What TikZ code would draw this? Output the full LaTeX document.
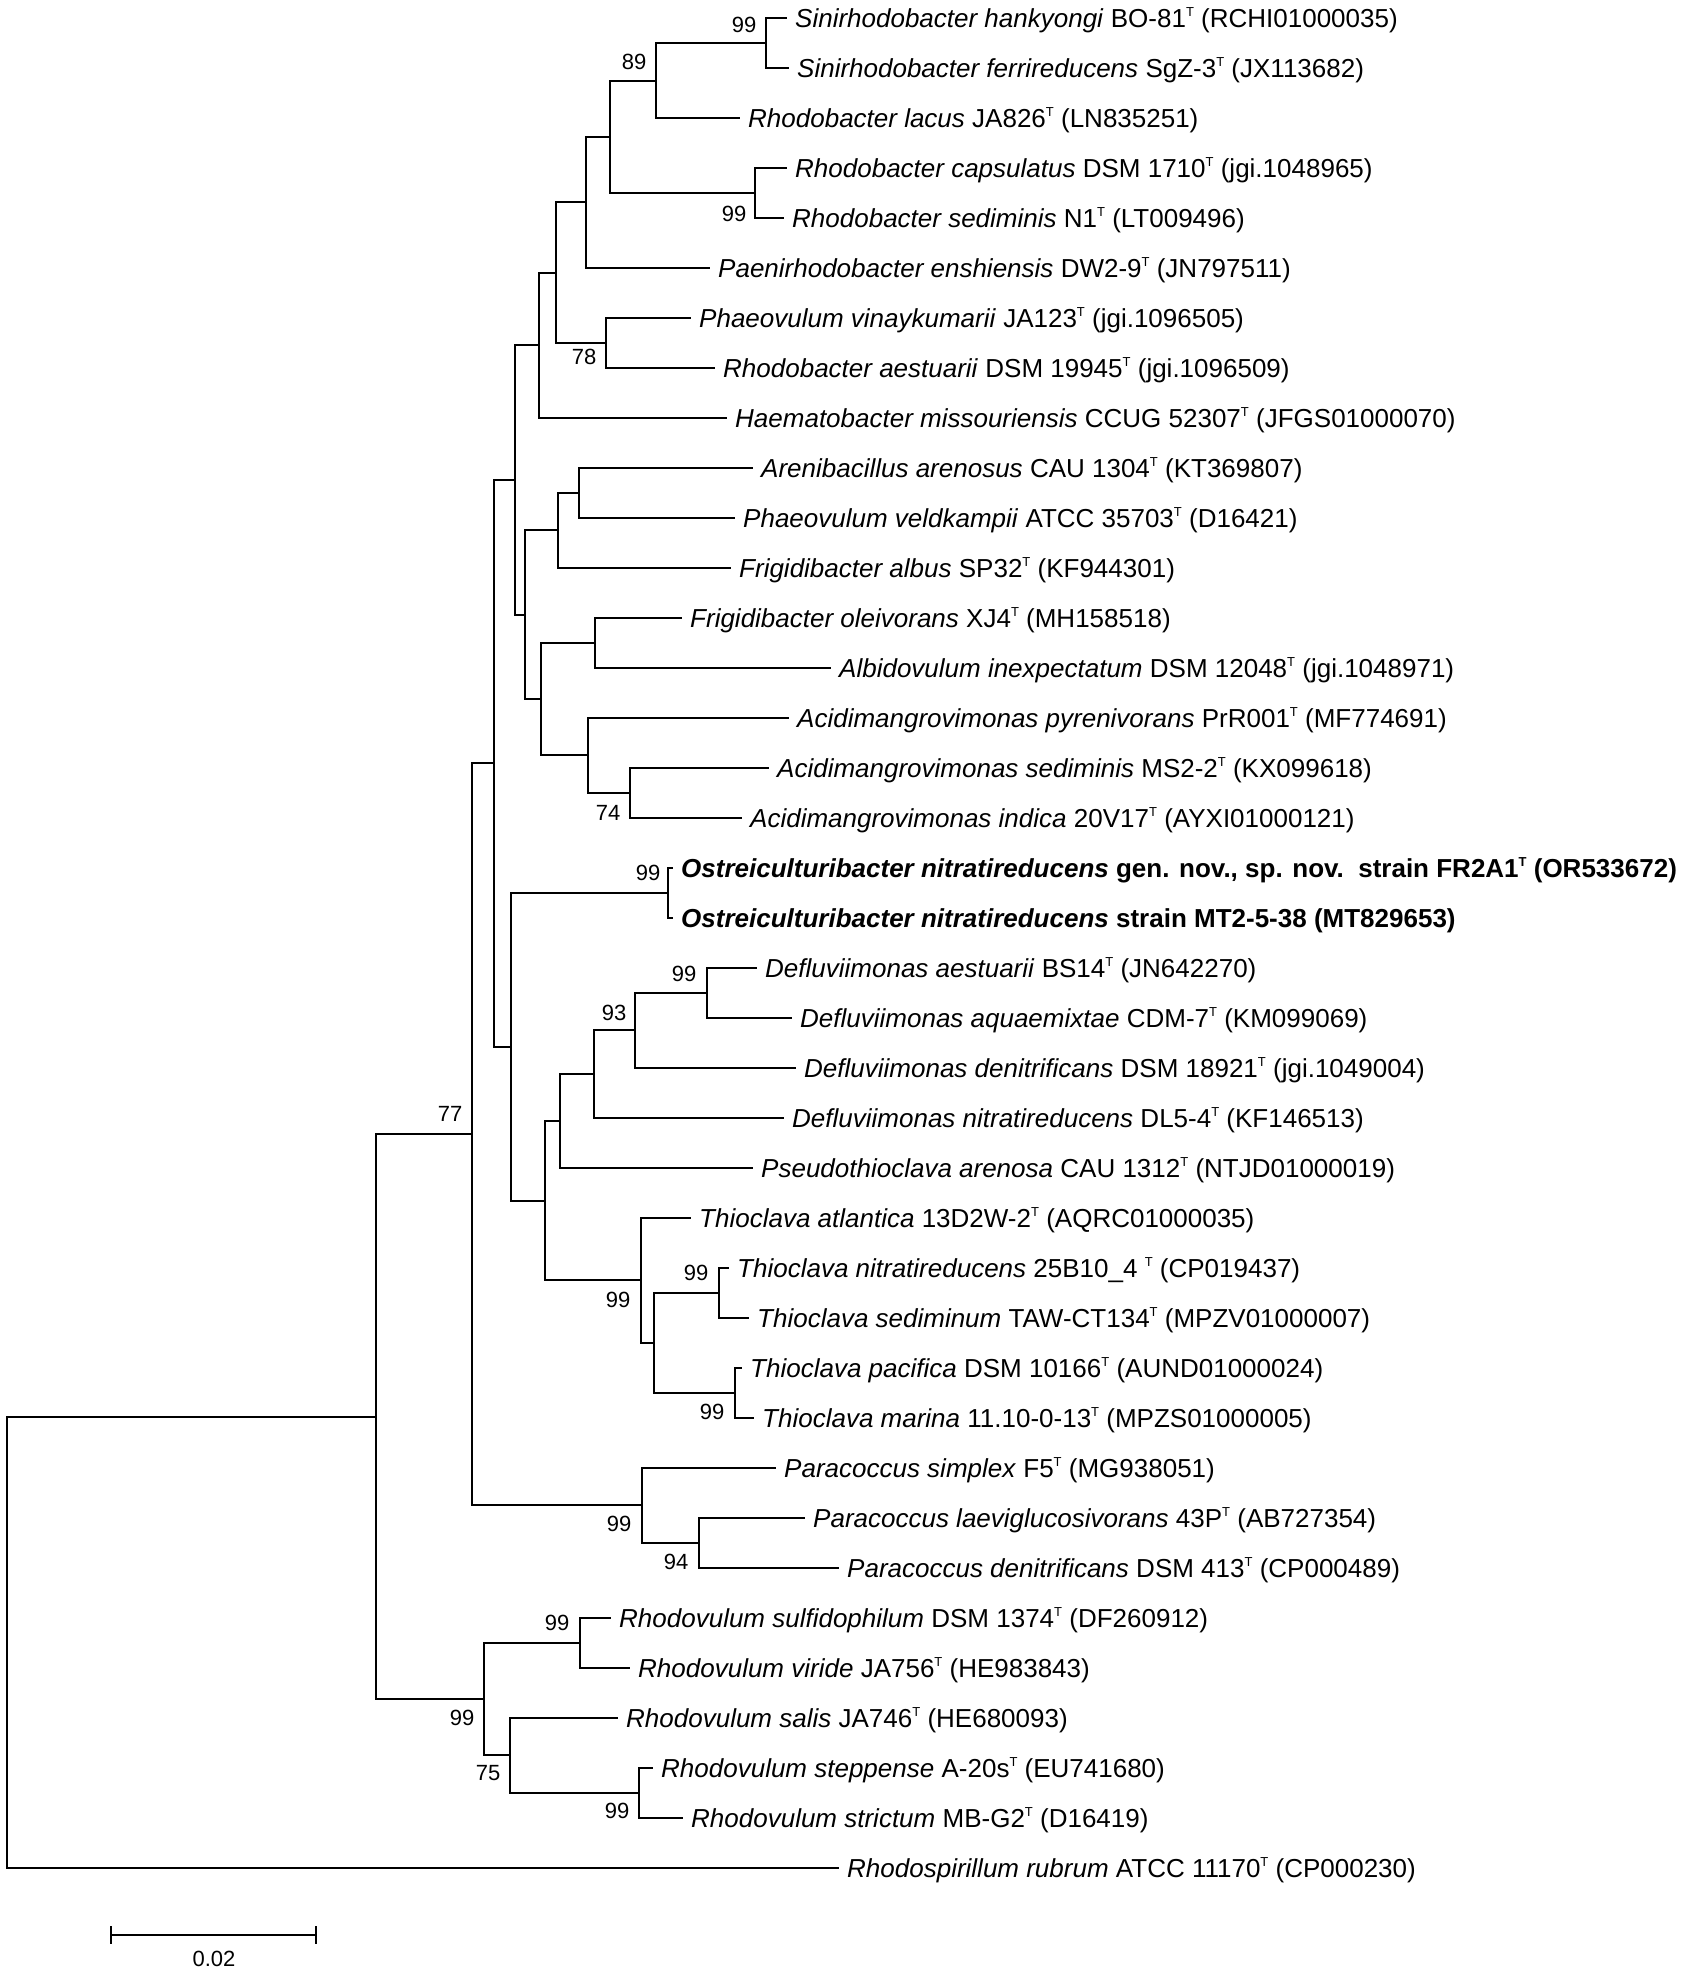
\documentclass[tikz,border=0pt]{standalone}
\usepackage{fontspec}
\setmainfont{Liberation Sans}
\newcommand{\supT}{\raisebox{0.42em}{\fontsize{13}{13}\selectfont T}}
\begin{document}
\begin{tikzpicture}[x=1pt,y=-1pt,
  leaf/.style={anchor=west, inner xsep=9pt, inner ysep=0pt, text height=18.6pt, text depth=0pt, font=\fontsize{26}{30}\selectfont},
  bs/.style={inner sep=0pt, font=\fontsize{22}{22}\selectfont},
  br/.style={line width=2pt, line join=miter, line cap=rect}]
\useasboundingbox (0,0) rectangle (1684,1973);
\fill[white] (0,0) rectangle (1684,1973);
% leaves
\node[leaf] (l0) at (786,18) {\textit{Sinirhodobacter hankyongi} BO-81\supT{} (RCHI01000035)};
\node[leaf] (l1) at (788,68) {\textit{Sinirhodobacter ferrireducens} SgZ-3\supT{} (JX113682)};
\node[leaf] (l2) at (739,118) {\textit{Rhodobacter lacus} JA826\supT{} (LN835251)};
\node[leaf] (l3) at (786,168) {\textit{Rhodobacter capsulatus} DSM 1710\supT{} (jgi.1048965)};
\node[leaf] (l4) at (783,218) {\textit{Rhodobacter sediminis} N1\supT{} (LT009496)};
\node[leaf] (l5) at (709,268) {\textit{Paenirhodobacter enshiensis} DW2-9\supT{} (JN797511)};
\node[leaf] (l6) at (690,318) {\textit{Phaeovulum vinaykumarii} JA123\supT{} (jgi.1096505)};
\node[leaf] (l7) at (714,368) {\textit{Rhodobacter aestuarii} DSM 19945\supT{} (jgi.1096509)};
\node[leaf] (l8) at (726,418) {\textit{Haematobacter missouriensis} CCUG 52307\supT{} (JFGS01000070)};
\node[leaf] (l9) at (752,468) {\textit{Arenibacillus arenosus} CAU 1304\supT{} (KT369807)};
\node[leaf] (l10) at (734,518) {\textit{Phaeovulum veldkampii} ATCC 35703\supT{} (D16421)};
\node[leaf] (l11) at (730,568) {\textit{Frigidibacter albus} SP32\supT{} (KF944301)};
\node[leaf] (l12) at (681,618) {\textit{Frigidibacter oleivorans} XJ4\supT{} (MH158518)};
\node[leaf] (l13) at (830,668) {\textit{Albidovulum inexpectatum} DSM 12048\supT{} (jgi.1048971)};
\node[leaf] (l14) at (788,718) {\textit{Acidimangrovimonas pyrenivorans} PrR001\supT{} (MF774691)};
\node[leaf] (l15) at (768,768) {\textit{Acidimangrovimonas sediminis} MS2-2\supT{} (KX099618)};
\node[leaf] (l16) at (741,818) {\textit{Acidimangrovimonas indica} 20V17\supT{} (AYXI01000121)};
\node[leaf] (l17) at (672,868) {\textbf{\textit{Ostreiculturibacter nitratireducens} gen. nov., sp. nov.\ \ strain FR2A1\supT{} (OR533672)}};
\node[leaf] (l18) at (672,918) {\textbf{\textit{Ostreiculturibacter nitratireducens} strain MT2-5-38 (MT829653)}};
\node[leaf] (l19) at (756,968) {\textit{Defluviimonas aestuarii} BS14\supT{} (JN642270)};
\node[leaf] (l20) at (791,1018) {\textit{Defluviimonas aquaemixtae} CDM-7\supT{} (KM099069)};
\node[leaf] (l21) at (795,1068) {\textit{Defluviimonas denitrificans} DSM 18921\supT{} (jgi.1049004)};
\node[leaf] (l22) at (783,1118) {\textit{Defluviimonas nitratireducens} DL5-4\supT{} (KF146513)};
\node[leaf] (l23) at (752,1168) {\textit{Pseudothioclava arenosa} CAU 1312\supT{} (NTJD01000019)};
\node[leaf] (l24) at (690,1218) {\textit{Thioclava atlantica} 13D2W-2\supT{} (AQRC01000035)};
\node[leaf] (l25) at (728,1268) {\textit{Thioclava nitratireducens} 25B10\_4 \supT{} (CP019437)};
\node[leaf] (l26) at (748,1318) {\textit{Thioclava sediminum} TAW-CT134\supT{} (MPZV01000007)};
\node[leaf] (l27) at (741,1368) {\textit{Thioclava pacifica} DSM 10166\supT{} (AUND01000024)};
\node[leaf] (l28) at (753,1418) {\textit{Thioclava marina} 11.10-0-13\supT{} (MPZS01000005)};
\node[leaf] (l29) at (775,1468) {\textit{Paracoccus simplex} F5\supT{} (MG938051)};
\node[leaf] (l30) at (804,1518) {\textit{Paracoccus laeviglucosivorans} 43P\supT{} (AB727354)};
\node[leaf] (l31) at (838,1568) {\textit{Paracoccus denitrificans} DSM 413\supT{} (CP000489)};
\node[leaf] (l32) at (610,1618) {\textit{Rhodovulum sulfidophilum} DSM 1374\supT{} (DF260912)};
\node[leaf] (l33) at (629,1668) {\textit{Rhodovulum viride} JA756\supT{} (HE983843)};
\node[leaf] (l34) at (617,1718) {\textit{Rhodovulum salis} JA746\supT{} (HE680093)};
\node[leaf] (l35) at (652,1768) {\textit{Rhodovulum steppense} A-20s\supT{} (EU741680)};
\node[leaf] (l36) at (682,1818) {\textit{Rhodovulum strictum} MB-G2\supT{} (D16419)};
\node[leaf] (l37) at (838,1868) {\textit{Rhodospirillum rubrum} ATCC 11170\supT{} (CP000230)};
% internal nodes
\coordinate (sin) at (766,43);
\coordinate (n89) at (656,81);
\coordinate (cap) at (755,193);
\coordinate (a1) at (610,137);
\coordinate (a2) at (586,202);
\coordinate (n78) at (606,343);
\coordinate (a3) at (556,273);
\coordinate (a4) at (539,345);
\coordinate (nE) at (579,493);
\coordinate (nD) at (558,530);
\coordinate (nG) at (595,643);
\coordinate (nI) at (630,793);
\coordinate (nH) at (588,755);
\coordinate (nF) at (541,699);
\coordinate (nC) at (525,615);
\coordinate (nA) at (515,480);
\coordinate (os) at (668,893);
\coordinate (df99) at (707,993);
\coordinate (df93) at (635,1030);
\coordinate (nN) at (594,1074);
\coordinate (nM) at (560,1121);
\coordinate (nQ) at (719,1293);
\coordinate (nR) at (735,1393);
\coordinate (nP) at (654,1343);
\coordinate (nO) at (641,1280);
\coordinate (nL) at (545,1201);
\coordinate (nK) at (511,1047);
\coordinate (nB) at (494,763);
\coordinate (p94) at (699,1543);
\coordinate (p99) at (642,1505);
\coordinate (nJ) at (472,1134);
\coordinate (nU) at (580,1643);
\coordinate (nW) at (639,1793);
\coordinate (nV) at (510,1755);
\coordinate (nT) at (484,1699);
\coordinate (nS) at (376,1417);
\coordinate (root) at (7,1642);
% branches
\draw[br] (l0.west) -| (sin) |- (l1.west);
\draw[br] (sin) -| (n89) |- (l2.west);
\draw[br] (l3.west) -| (cap) |- (l4.west);
\draw[br] (n89) -| (a1) |- (cap);
\draw[br] (a1) -| (a2) |- (l5.west);
\draw[br] (l6.west) -| (n78) |- (l7.west);
\draw[br] (a2) -| (a3) |- (n78);
\draw[br] (a3) -| (a4) |- (l8.west);
\draw[br] (l9.west) -| (nE) |- (l10.west);
\draw[br] (nE) -| (nD) |- (l11.west);
\draw[br] (l12.west) -| (nG) |- (l13.west);
\draw[br] (l15.west) -| (nI) |- (l16.west);
\draw[br] (l14.west) -| (nH) |- (nI);
\draw[br] (nG) -| (nF) |- (nH);
\draw[br] (nD) -| (nC) |- (nF);
\draw[br] (a4) -| (nA) |- (nC);
\draw[br] (l17.west) -| (os) |- (l18.west);
\draw[br] (l19.west) -| (df99) |- (l20.west);
\draw[br] (df99) -| (df93) |- (l21.west);
\draw[br] (df93) -| (nN) |- (l22.west);
\draw[br] (nN) -| (nM) |- (l23.west);
\draw[br] (l25.west) -| (nQ) |- (l26.west);
\draw[br] (l27.west) -| (nR) |- (l28.west);
\draw[br] (nQ) -| (nP) |- (nR);
\draw[br] (l24.west) -| (nO) |- (nP);
\draw[br] (nM) -| (nL) |- (nO);
\draw[br] (os) -| (nK) |- (nL);
\draw[br] (nA) -| (nB) |- (nK);
\draw[br] (l30.west) -| (p94) |- (l31.west);
\draw[br] (l29.west) -| (p99) |- (p94);
\draw[br] (nB) -| (nJ) |- (p99);
\draw[br] (l32.west) -| (nU) |- (l33.west);
\draw[br] (l35.west) -| (nW) |- (l36.west);
\draw[br] (l34.west) -| (nV) |- (nW);
\draw[br] (nU) -| (nT) |- (nV);
\draw[br] (nJ) -| (nS) |- (nT);
\draw[br] (nS) -| (root) |- (l37.west);
% bootstrap values
\node[bs] (b1) at (744,25) {99};
\node[bs] (b2) at (634,62) {89};
\node[bs] (b3) at (734,214) {99};
\node[bs] (b4) at (584,357) {78};
\node[bs] (b5) at (608,813) {74};
\node[bs] (b6) at (648,873) {99};
\node[bs] (b7) at (684,974) {99};
\node[bs] (b8) at (614,1013) {93};
\node[bs] (b9) at (696,1273) {99};
\node[bs] (b10) at (618,1300) {99};
\node[bs] (b11) at (712,1412) {99};
\node[bs] (b12) at (450,1114) {77};
\node[bs] (b13) at (619,1524) {99};
\node[bs] (b14) at (676,1562) {94};
\node[bs] (b15) at (557,1623) {99};
\node[bs] (b16) at (462,1718) {99};
\node[bs] (b17) at (488,1773) {75};
\node[bs] (b18) at (617,1811) {99};
% scale bar
\coordinate (sbl) at (111,1935);
\coordinate (sbr) at (316,1935);
\draw[br, line cap=butt] (sbl) -- (sbr);
\draw[br, line cap=butt] ([yshift=9pt]sbl) -- ([yshift=-9pt]sbl);
\draw[br, line cap=butt] ([yshift=9pt]sbr) -- ([yshift=-9pt]sbr);
\node[bs] (sbt) at (214,1959) {0.02};
\end{tikzpicture}
\end{document}
